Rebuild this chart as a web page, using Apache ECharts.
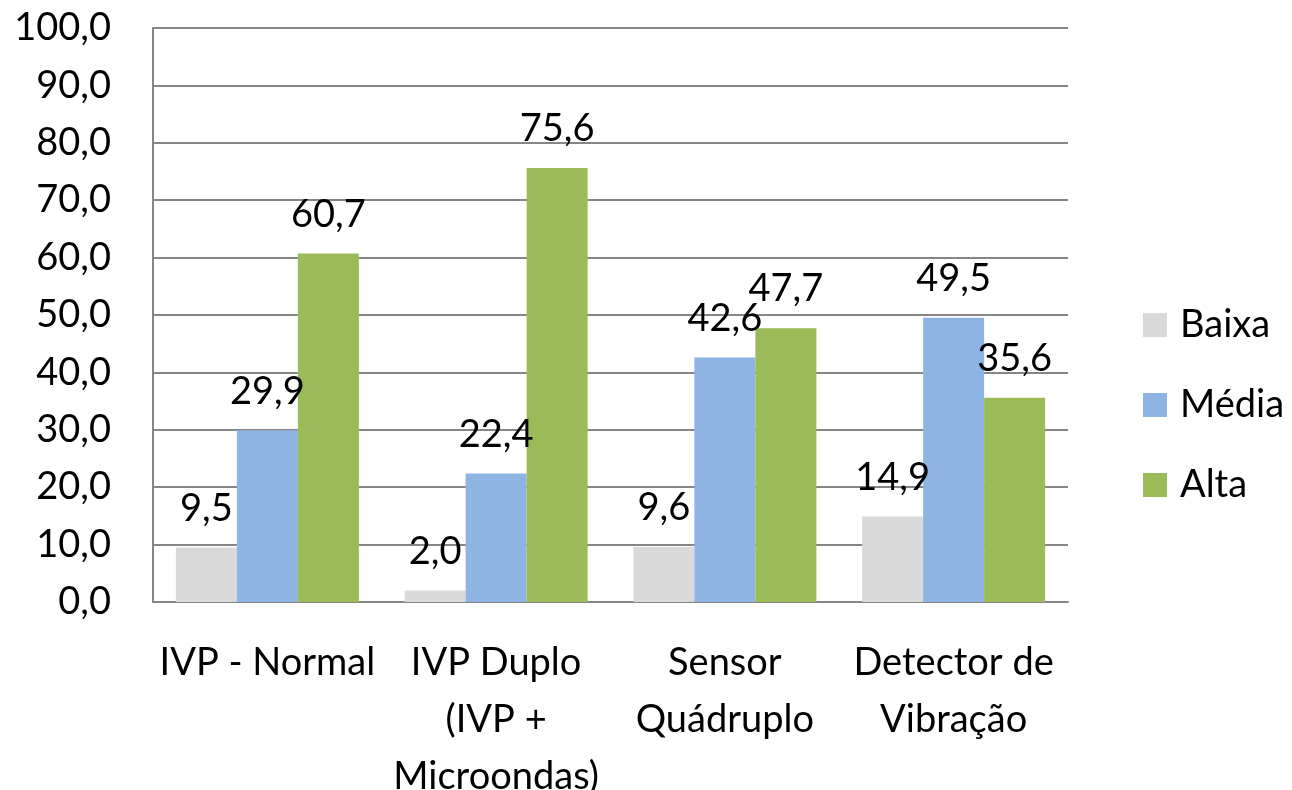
<!DOCTYPE html>
<html>
<head>
<meta charset="utf-8">
<script src="https://cdn.jsdelivr.net/npm/echarts@6/dist/echarts.min.js"></script>
<style>html,body{margin:0;padding:0;background:#fff;}#c{width:1292px;height:790px;}</style>
</head>
<body>
<div id="c"></div>
<script>
const categories = ['IVP - Normal', 'IVP Duplo\n(IVP +\nMicroondas)', 'Sensor\nQuádruplo', 'Detector de\nVibração'];
const seriesNames = ['Baixa', 'Média', 'Alta'];
const baixa = [9.5, 2.0, 9.6, 14.9];
const media = [29.9, 22.4, 42.6, 49.5];
const alta = [60.7, 75.6, 47.7, 35.6];
const colors = ['#D9D9D9', '#8EB4E3', '#9BBB59'];

const FONT = 'Lato';
const fmt = v => Number(v).toFixed(1).replace('.', ',');

const chart = echarts.init(document.getElementById('c'), null, {renderer: 'canvas'});
const mk = (name, data, color) => ({
  name: name, type: 'bar', data: data, barWidth: 61, barGap: '0%',
  itemStyle: {color: color},
  label: {show: true, position: 'top', distance: 20, color: '#000', fontFamily: FONT, fontSize: 38,
    formatter: p => fmt(p.value)}
});
chart.setOption({
  animation: false,
  backgroundColor: '#fff',
  textStyle: {fontFamily: FONT},
  grid: {left: 153, right: 224, top: 28, bottom: 188, containLabel: false, outerBoundsMode: 'none'},
  legend: {
    orient: 'vertical', left: 1138, top: 301, itemWidth: 24, itemHeight: 24, itemGap: 42,
    icon: 'rect',
    textStyle: {fontFamily: FONT, fontSize: 38, color: '#000', padding: [0, 0, 0, 8]},
    data: seriesNames
  },
  xAxis: {
    type: 'category', data: categories,
    axisLine: {lineStyle: {color: '#868686', width: 2}},
    axisTick: {show: false},
    axisLabel: {color: '#000', fontFamily: FONT, fontSize: 38, lineHeight: 57, margin: 32, interval: 0}
  },
  yAxis: {
    type: 'value', min: 0, max: 100, interval: 10,
    axisLine: {show: true, lineStyle: {color: '#868686', width: 2}},
    axisTick: {show: false},
    splitLine: {lineStyle: {color: '#868686', width: 2}},
    axisLabel: {color: '#000', fontFamily: FONT, fontSize: 38, margin: 42, formatter: v => fmt(v)}
  },
  series: [mk(seriesNames[0], baixa, colors[0]), mk(seriesNames[1], media, colors[1]), mk(seriesNames[2], alta, colors[2])]
});
</script>
</body>
</html>
